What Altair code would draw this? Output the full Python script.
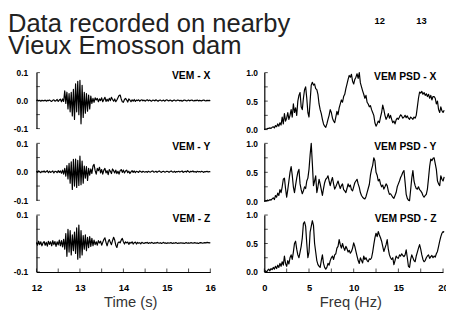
import altair as alt
import pandas as pd

# ---------------- data ----------------
TIME_START = 12.0
TIME_STEP = 0.025          # s between samples
FREQ_START = 0.0
FREQ_STEP = 0.125          # Hz between samples

VEM_X = [
    0.000, 0.002, -0.001, 0.001, -0.002, 0.001, 0.000, -0.001, 0.002, -0.002,
    0.001, 0.000, 0.002, -0.001, -0.003, 0.001, 0.003, -0.002, 0.000, 0.004,
    -0.003, 0.002, 0.005, -0.004, 0.006, -0.003,
    0.035, -0.010, 0.030, -0.030, 0.025, -0.040, 0.030, -0.055, 0.040, -0.067,
    0.060, -0.040, 0.069, -0.050, 0.072, -0.083, 0.055, -0.060, 0.030, -0.045,
    0.025, -0.038, 0.020, -0.030, 0.016, -0.010, 0.008,
    -0.006, 0.010, 0.002, 0.008, -0.004, 0.006, 0.000, 0.010, -0.004, 0.004,
    0.012, -0.003, 0.005, -0.002, 0.008, 0.000, 0.012, 0.004, -0.002, 0.006,
    -0.004, 0.002, 0.010, 0.018, 0.020, 0.006, -0.004, -0.006,
    0.004, 0.008, 0.002, -0.005, 0.006, 0.002, -0.004, 0.003, -0.002, 0.004,
    -0.003, 0.002, 0.000, 0.003, -0.002, 0.001, 0.003, -0.001, 0.002, -0.002,
    0.001, 0.003, -0.001, 0.002, 0.000, -0.002, 0.002, 0.001, -0.001, 0.003,
    0.000, -0.002, 0.001, 0.002, -0.001, 0.000, 0.002, -0.002, 0.001, 0.003,
    0.000, -0.001, 0.002, 0.000, -0.002, 0.001, 0.002, -0.001, 0.000, 0.002,
    0.001, -0.001, 0.001, -0.002, 0.000, 0.002, 0.001, -0.001, 0.000, 0.002,
    -0.001, 0.001, 0.002, 0.000, -0.001, 0.001, 0.000, 0.002, -0.001, 0.001,
    0.000, -0.001, 0.001, 0.002, 0.000, -0.001, 0.001, 0.000, 0.001, 0.000,
]
VEM_Y = [
    0.002, -0.002, 0.003, 0.000, -0.003, 0.002, -0.001, 0.003, -0.002, 0.001,
    0.004, -0.003, 0.002, -0.002, 0.000, 0.003, -0.004, 0.002, 0.001, -0.003,
    0.004, -0.002, 0.003, -0.005, 0.006,
    -0.008, 0.012, -0.015, 0.022, -0.025, 0.030, -0.040, 0.035, -0.062, 0.044,
    -0.050, 0.045, -0.055, 0.040, -0.048, 0.055, -0.045, 0.038, -0.040, 0.020,
    -0.022, 0.018, -0.030, 0.012, -0.012, 0.010, -0.006, 0.020,
    0.026, 0.004, -0.008, 0.012, 0.004, 0.016, -0.004, 0.008, -0.008, 0.006,
    0.012, -0.004, 0.004, -0.010, 0.008, 0.002, -0.006, 0.010, 0.004, -0.004,
    0.006, -0.006, 0.002, -0.008, 0.004, 0.008, -0.002, 0.006,
    -0.004, 0.003, 0.006, -0.003, 0.002, -0.006, 0.000, 0.004, -0.002, 0.003,
    -0.003, 0.002, 0.000, -0.002, 0.003, 0.001, -0.002, 0.002, 0.000, -0.001,
    0.001, -0.002, 0.002, 0.000, -0.001, 0.002, 0.003, -0.001, 0.000, 0.002,
    -0.002, 0.001, 0.003, 0.000, -0.002, 0.001, 0.002, -0.001, 0.000, 0.002,
    0.001, -0.002, 0.001, 0.003, 0.000, -0.001, 0.002, -0.002, 0.001, 0.000,
    0.002, -0.001, 0.001, 0.003, -0.002, 0.000, 0.002, -0.001, 0.004, 0.001,
    -0.002, 0.002, 0.000, 0.003, -0.001, 0.001, -0.002, 0.002, 0.000, 0.001,
    -0.001, 0.002, 0.000, -0.002, 0.001, 0.000, 0.002, -0.001, 0.001, 0.000,
]
VEM_Z = [
    0.004, -0.006, 0.008, -0.004, 0.006, -0.008, 0.002, 0.007, -0.006, 0.004,
    -0.009, 0.008, -0.003, 0.006, -0.008, 0.010, -0.004, 0.007, -0.010, 0.006,
    -0.005, 0.012, -0.008, 0.010, -0.012, 0.015,
    -0.020, 0.035, -0.045, 0.050, -0.030, 0.045, -0.040, 0.030, -0.025, 0.040,
    -0.035, 0.055, -0.055, 0.065, -0.050, 0.045, -0.040, 0.028, -0.020, 0.030,
    -0.025, 0.022, -0.015, 0.024, -0.010, 0.018, -0.008,
    0.012, -0.004, 0.006, -0.006, 0.010, 0.002, 0.008, -0.006, 0.004, 0.014,
    0.020, 0.004, -0.008, 0.006, 0.014, 0.004, -0.004, 0.010, 0.022, 0.012,
    -0.006, -0.014, 0.002, 0.006, 0.002, 0.012, 0.018, 0.006,
    -0.002, 0.006, 0.002, 0.005, -0.003, 0.004, 0.001, 0.006, -0.002, 0.003,
    0.005, -0.002, 0.004, 0.001, 0.003, -0.001, 0.004, 0.002, 0.000, 0.003,
    0.002, 0.004, 0.000, 0.003, 0.001, 0.004, 0.002, 0.000, 0.003, 0.001,
    0.004, 0.002, 0.001, 0.003, 0.000, 0.002, 0.004, 0.001, 0.002, 0.000,
    0.003, 0.001, 0.002, 0.003, 0.000, 0.002, 0.001, 0.003, 0.002, 0.000,
    0.002, 0.001, 0.003, 0.001, 0.002, 0.000, 0.002, 0.003, 0.001, 0.002,
    0.001, 0.003, 0.002, 0.001, 0.002, 0.003, 0.001, 0.002, 0.000, 0.002,
    0.003, 0.002, 0.001, 0.002, 0.003, 0.002, 0.004, 0.003, 0.002, 0.003,
]
PSD_X = [
    0.00, 0.01, 0.01, 0.02, 0.02, 0.03, 0.02, 0.04,
    0.05, 0.03, 0.07, 0.05, 0.10, 0.06, 0.12, 0.08,
    0.22, 0.10, 0.28, 0.15, 0.20, 0.30, 0.18, 0.25,
    0.35, 0.22, 0.45, 0.30, 0.38, 0.25, 0.50, 0.60,
    0.65, 0.40, 0.35, 0.55, 0.70, 0.75, 0.55, 0.30,
    0.22, 0.50, 0.78, 0.83, 0.78, 0.80, 0.72, 0.70,
    0.62, 0.45, 0.35, 0.28, 0.18, 0.10, 0.06, 0.04,
    0.10, 0.18, 0.25, 0.35, 0.30, 0.20, 0.15, 0.12,
    0.22, 0.32, 0.26, 0.38, 0.45, 0.52, 0.48, 0.58,
    0.62, 0.72, 0.80, 0.88, 0.95, 0.92, 0.97, 0.85,
    0.80, 0.88, 0.92, 0.98, 0.90, 1.00, 0.82, 0.75,
    0.68, 0.62, 0.55, 0.60, 0.48, 0.45, 0.40, 0.42,
    0.35, 0.30, 0.25, 0.12, 0.06, 0.10, 0.15, 0.12,
    0.22, 0.30, 0.43, 0.35, 0.25, 0.18, 0.22, 0.28,
    0.20, 0.25, 0.18, 0.12, 0.15, 0.10, 0.17, 0.20,
    0.18, 0.22, 0.26, 0.24, 0.20, 0.22, 0.25, 0.21,
    0.24, 0.20, 0.18, 0.22, 0.20, 0.18, 0.22, 0.20,
    0.25, 0.40, 0.55, 0.66, 0.64, 0.67, 0.62, 0.65,
    0.60, 0.63, 0.58, 0.62, 0.55, 0.60, 0.52, 0.58,
    0.58, 0.55, 0.45, 0.50, 0.35, 0.30, 0.40, 0.33,
    0.30, 0.34,
]
PSD_Y = [
    0.00, 0.01, 0.01, 0.02, 0.01, 0.03, 0.02, 0.04,
    0.06, 0.03, 0.10, 0.07, 0.14, 0.10, 0.20, 0.15,
    0.25, 0.38, 0.40, 0.22, 0.07, 0.20, 0.35, 0.50,
    0.60, 0.45, 0.25, 0.15, 0.28, 0.40, 0.50, 0.55,
    0.30, 0.20, 0.13, 0.18, 0.25, 0.22, 0.35, 0.40,
    0.55, 0.80, 1.00, 0.65, 0.27, 0.35, 0.44, 0.15,
    0.25, 0.38, 0.30, 0.20, 0.10, 0.22, 0.32, 0.38,
    0.40, 0.44, 0.35, 0.27, 0.35, 0.41, 0.30, 0.21,
    0.25, 0.30, 0.35, 0.28, 0.22, 0.27, 0.30, 0.20,
    0.18, 0.15, 0.22, 0.30, 0.25, 0.28, 0.20, 0.18,
    0.25, 0.32, 0.35, 0.38, 0.30, 0.24, 0.15, 0.10,
    0.07, 0.05, 0.04, 0.08, 0.15, 0.22, 0.29, 0.45,
    0.55, 0.62, 0.75, 0.70, 0.50, 0.45, 0.35, 0.38,
    0.30, 0.25, 0.28, 0.21, 0.25, 0.30, 0.27, 0.18,
    0.12, 0.13, 0.10, 0.07, 0.05, 0.10, 0.15, 0.25,
    0.30, 0.35, 0.41, 0.45, 0.50, 0.53, 0.33, 0.12,
    0.05, 0.02, 0.01, 0.20, 0.40, 0.53, 0.35, 0.27,
    0.22, 0.21, 0.25, 0.20, 0.18, 0.15, 0.10, 0.07,
    0.10, 0.12, 0.21, 0.40, 0.60, 0.73, 0.70, 0.74,
    0.75, 0.65, 0.55, 0.35, 0.30, 0.27, 0.44, 0.38,
    0.35, 0.42,
]
PSD_Z = [
    0.01, 0.02, 0.00, 0.03, 0.05, 0.02, 0.06, 0.04,
    0.08, 0.05, 0.10, 0.06, 0.12, 0.08, 0.15, 0.10,
    0.18, 0.12, 0.28, 0.15, 0.10, 0.20, 0.14, 0.25,
    0.30, 0.22, 0.35, 0.50, 0.54, 0.40, 0.30, 0.25,
    0.35, 0.45, 0.60, 0.85, 0.88, 0.80, 0.50, 0.25,
    0.35, 0.70, 0.80, 0.90, 0.82, 0.50, 0.35, 0.20,
    0.13, 0.10, 0.08, 0.20, 0.30, 0.15, 0.08, 0.05,
    0.08, 0.15, 0.12, 0.20, 0.25, 0.28, 0.22, 0.30,
    0.32, 0.42, 0.45, 0.57, 0.48, 0.42, 0.50, 0.43,
    0.38, 0.45, 0.41, 0.35, 0.38, 0.33, 0.36, 0.42,
    0.51, 0.45, 0.36, 0.28, 0.20, 0.15, 0.25, 0.20,
    0.16, 0.28, 0.22, 0.25, 0.20, 0.18, 0.23, 0.22,
    0.25, 0.35, 0.48, 0.60, 0.68, 0.62, 0.71, 0.65,
    0.60, 0.54, 0.45, 0.36, 0.42, 0.48, 0.57, 0.40,
    0.30, 0.25, 0.22, 0.25, 0.13, 0.20, 0.28, 0.25,
    0.24, 0.30, 0.28, 0.32, 0.29, 0.27, 0.30, 0.39,
    0.25, 0.10, 0.08, 0.22, 0.30, 0.25, 0.20, 0.18,
    0.28, 0.35, 0.42, 0.48, 0.40, 0.30, 0.22, 0.18,
    0.20, 0.25, 0.28, 0.30, 0.24, 0.27, 0.29, 0.25,
    0.28, 0.26, 0.32, 0.36, 0.45, 0.54, 0.62, 0.68,
    0.71, 0.70,
]

TITLE_LINES = ["Data recorded on nearby", "Vieux Emosson dam"]
TIME_PANEL_LABELS = ["VEM - X", "VEM - Y", "VEM - Z"]
FREQ_PANEL_LABELS = ["VEM PSD - X", "VEM PSD - Y", "VEM PSD - Z"]
TIME_TITLE = "Time (s)"
FREQ_TITLE = "Freq (Hz)"

TIME_DOMAIN = [12, 16]
FREQ_DOMAIN = [0, 20]
AMP_DOMAIN = [-0.1, 0.1]
PSD_DOMAIN = [0, 1]
TIME_LABEL_VALUES = [12, 13, 14, 15, 16]
TIME_TICK_VALUES = [12, 12.5, 13, 13.5, 14, 14.5, 15, 15.5, 16]
FREQ_LABEL_VALUES = [0, 5, 10, 15, 20]
FREQ_TICK_VALUES = [0, 2.5, 5, 7.5, 10, 12.5, 15, 17.5, 20]
AMP_LABEL_VALUES = [[-0.1, 0.0, 0.1], [-0.1, 0.0, 0.1], [-0.1, 0.1]]
AMP_TICK_VALUES = [-0.1, -0.05, 0.0, 0.05, 0.1]
PSD_LABEL_VALUES = [0.0, 0.5, 1.0]
PSD_TICK_VALUES = [0.0, 0.25, 0.5, 0.75, 1.0]
# fragment of the next (cut-off) chart at the top right
PARTIAL_LABEL_VALUES = [12, 13]
PARTIAL_TICK_VALUES = [12, 12.5, 13, 13.5]

# ---------------- layout (pixels, relative to the drawing origin) ----------------
FONT = "Liberation Sans, Arial, sans-serif"
W, H = 446, 307
LEFT_X = [29, 206]
RIGHT_X = [261, 443]
LEFT_ROWS = [[120, 63], [193, 135], [266, 208]]
RIGHT_ROWS = [[121, 63], [194, 135], [266, 208]]
AXIS_Y = 266
PARTIAL_X = [378, 420.5]
TIME_LABEL_ANCHOR = (16, 0.086)
FREQ_LABEL_ANCHOR = (19.26, 0.93)

LABEL_EXPR = "(datum.value < 0 ? '-' : '') + format(abs(datum.value), '.1f')"


def y_axis(offset, values, pad):
    return alt.Axis(
        orient="left", offset=offset, values=values, title=None, grid=False,
        ticks=False, tickSize=0, labelPadding=pad, labelExpr=LABEL_EXPR,
        labelFont=FONT, labelFontSize=8.5, labelFontWeight="bold", labelColor="black",
        labelFlush=False, labelOverlap=False, labelBaseline="middle",
        domainColor="black", domainWidth=1.2,
    )


def x_axis(values, title, title_x):
    return alt.Axis(
        orient="bottom", offset=AXIS_Y - H, values=values, format="d", grid=False,
        ticks=False, tickSize=0, labelPadding=11,
        labelFont=FONT, labelFontSize=9.5, labelFontWeight="bold", labelColor="black",
        labelFlush=False, labelOverlap=False,
        domainColor="black", domainWidth=1.2,
        title=title, titleFont=FONT, titleFontSize=15, titleFontWeight="normal",
        titleColor="#333333", titleX=title_x, titleY=35, titleBaseline="alphabetic",
        titleAlign="center",
    )


def panel(values, start, step, xdom, xrange, ydom, yrange, yaxis, ytick_vals,
          label, label_anchor, xaxis=None, xtick_vals=None):
    xs = alt.Scale(domain=xdom, range=xrange, nice=False, zero=False)
    ys = alt.Scale(domain=ydom, range=yrange, nice=False, zero=False)
    df = pd.DataFrame({"x": [start + step * i for i in range(len(values))], "v": values})
    out = [
        alt.Chart(df).mark_line(color="black", strokeWidth=1.2, strokeJoin="round").encode(
            x=alt.X("x:Q", scale=xs, axis=xaxis),
            y=alt.Y("v:Q", scale=ys, axis=yaxis),
        )
    ]
    tdf = pd.DataFrame({"x": [xdom[0]] * len(ytick_vals), "v": ytick_vals})
    out.append(
        alt.Chart(tdf).mark_tick(orient="horizontal", size=3.5, thickness=1, xOffset=1.75,
                                 color="black").encode(
            x=alt.X("x:Q", scale=xs, axis=None), y=alt.Y("v:Q", scale=ys, axis=None))
    )
    if xtick_vals is not None:
        bdf = pd.DataFrame({"x": xtick_vals, "v": [ydom[0]] * len(xtick_vals)})
        out.append(
            alt.Chart(bdf).mark_tick(orient="vertical", size=3.5, thickness=1, yOffset=-1.75,
                                     color="black").encode(
                x=alt.X("x:Q", scale=xs, axis=None), y=alt.Y("v:Q", scale=ys, axis=None))
        )
    ldf = pd.DataFrame({"x": [label_anchor[0]], "v": [label_anchor[1]], "t": [label]})
    out.append(
        alt.Chart(ldf).mark_text(align="right", baseline="middle", font=FONT, fontSize=10.5,
                                 fontWeight="bold", color="black").encode(
            x=alt.X("x:Q", scale=xs, axis=None), y=alt.Y("v:Q", scale=ys, axis=None),
            text="t:N")
    )
    return out


layers = []
time_series = [VEM_X, VEM_Y, VEM_Z]
freq_series = [PSD_X, PSD_Y, PSD_Z]
for k in range(3):
    bottom = k == 2
    layers += panel(
        time_series[k], TIME_START, TIME_STEP, TIME_DOMAIN, LEFT_X, AMP_DOMAIN, LEFT_ROWS[k],
        y_axis(-LEFT_X[0], AMP_LABEL_VALUES[k], 9), AMP_TICK_VALUES,
        TIME_PANEL_LABELS[k], TIME_LABEL_ANCHOR,
        xaxis=x_axis(TIME_LABEL_VALUES, TIME_TITLE, 124.5) if bottom else None,
        xtick_vals=TIME_TICK_VALUES if bottom else None,
    )
    layers += panel(
        freq_series[k], FREQ_START, FREQ_STEP, FREQ_DOMAIN, RIGHT_X, PSD_DOMAIN, RIGHT_ROWS[k],
        y_axis(-RIGHT_X[0], PSD_LABEL_VALUES, 7), PSD_TICK_VALUES,
        FREQ_PANEL_LABELS[k], FREQ_LABEL_ANCHOR,
        xaxis=x_axis(FREQ_LABEL_VALUES, FREQ_TITLE, 348.7) if bottom else None,
        xtick_vals=FREQ_TICK_VALUES if bottom else None,
    )

# cut-off neighbouring chart: only its first time labels are inside the frame
pdf = pd.DataFrame({"x": PARTIAL_TICK_VALUES, "v": [-0.2] * len(PARTIAL_TICK_VALUES)})
layers.append(
    alt.Chart(pdf).mark_tick(orient="vertical", size=3, thickness=1, color="black").encode(
        x=alt.X("x:Q", scale=alt.Scale(domain=[12, 13], range=PARTIAL_X, nice=False, zero=False),
                axis=alt.Axis(orient="bottom", offset=-H, values=PARTIAL_LABEL_VALUES, format="d",
                              domain=False, ticks=False, tickSize=0, labelPadding=4.5, grid=False,
                              labelFont=FONT, labelFontSize=9.5, labelFontWeight="bold",
                              labelColor="black", labelFlush=False, labelOverlap=False,
                              title=None)),
        y=alt.Y("v:Q", scale=alt.Scale(domain=[-0.2, 0.2], range=[-6, -40], nice=False, zero=False),
                axis=None),
    )
)

# slide heading (two lines)
hdf = pd.DataFrame({"t": ["\n".join(TITLE_LINES)]})
layers.append(
    alt.Chart(hdf).mark_text(align="left", baseline="top", font=FONT, fontSize=26,
                             color="#222222", lineHeight=22.5, lineBreak="\n").encode(
        x=alt.value(0), y=alt.value(0.5), text="t:N")
)

chart = (
    alt.layer(*layers)
    .resolve_scale(x="independent", y="independent")
    .properties(width=W, height=H, autosize=alt.AutoSizeParams(type="none"), padding=0,
                background="white")
    .configure_view(stroke=None)
)

chart.save("out.html", embed_options={"renderer": "svg", "actions": False})
